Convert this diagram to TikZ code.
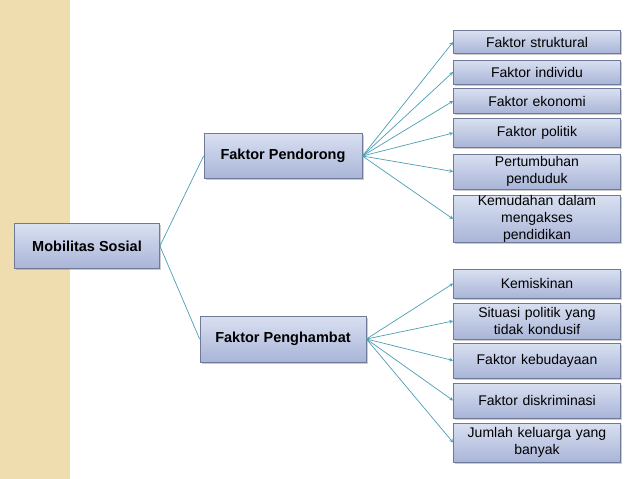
\documentclass[tikz,border=0pt]{standalone}
\usepackage{fontspec}
\setmainfont{Liberation Sans}
\usetikzlibrary{shadows}
\definecolor{band}{HTML}{EFDDB0}
\definecolor{boxtop}{HTML}{D9E0F1}
\definecolor{boxbot}{HTML}{A9B5D8}
\definecolor{boxline}{HTML}{6F7A99}
\definecolor{link}{HTML}{4C9DB3}

\begin{document}
\begin{tikzpicture}[x=1pt, y=-1pt, ->, >=stealth, draw=link, line width=0.7pt]
        \tikzstyle{box}=[rectangle, draw=boxline, line width=0.8pt, top color=boxtop, bottom color=boxbot,
            drop shadow={shadow xshift=1.5pt, shadow yshift=-1.5pt, opacity=0.4}, align=center,
            font=\fontsize{14}{17}\selectfont, inner sep=0pt]
        \tikzstyle{main}=[box, font=\bfseries\fontsize{14.5}{17}\selectfont]
        \tikzstyle{leaf}=[box, minimum width=167pt, text width=165pt, text centered]

        \useasboundingbox (0,0) rectangle (638,479);
        \fill[band] (0,0) rectangle (70,479);

        \node[main, minimum width=145pt, minimum height=45pt] (MS) at (87,246) {Mobilitas Sosial};
        \node[main, minimum width=158pt, minimum height=45pt] (PD) at (283,156) {Faktor Pendorong};
        \node[main, minimum width=166pt, minimum height=46pt] (PH) at (283,339) {Faktor Penghambat};

        \node[leaf, minimum height=23pt] (L-1) at (537,42) {Faktor struktural};
        \node[leaf, minimum height=24pt] (L-2) at (537,72) {Faktor individu};
        \node[leaf, minimum height=25pt] (L-3) at (537,101) {Faktor ekonomi};
        \node[leaf, minimum height=29pt] (L-4) at (537,133) {Faktor politik};
        \node[leaf, minimum height=35pt] (L-5) at (537,171.5) {Pertumbuhan\\penduduk};
        \node[leaf, minimum height=40pt] (L-6) at (537,219) {Kemudahan dalam\\mengakses\\pendidikan};

        \node[leaf, minimum height=29pt] (R-1) at (537,283.5) {Kemiskinan};
        \node[leaf, minimum height=36pt] (R-2) at (537,321) {Situasi politik yang\\tidak kondusif};
        \node[leaf, minimum height=35pt] (R-3) at (537,360.5) {Faktor kebudayaan};
        \node[leaf, minimum height=35pt] (R-4) at (537,400.5) {Faktor diskriminasi};
        \node[leaf, minimum height=39pt] (R-5) at (537,442.5) {Jumlah keluarga yang\\banyak};

        \draw[-] (MS.east) -- (PD.west);
        \draw[-] (MS.east) -- (PH.west);
        \foreach \i in {1,...,6}
            \draw (PD.east) -- (L-\i.west);
        \foreach \i in {1,...,5}
            \draw (PH.east) -- (R-\i.west);
    \end{tikzpicture}
\end{document}
